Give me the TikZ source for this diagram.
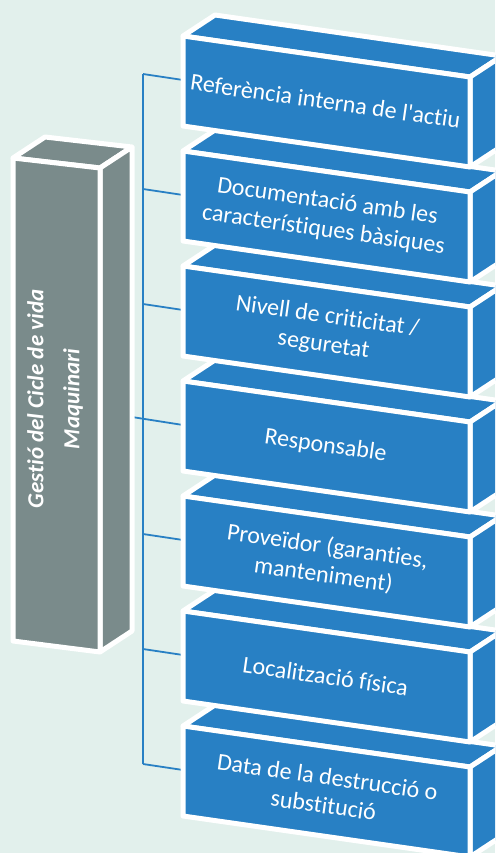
\documentclass[tikz,border=0pt]{standalone}
\usepackage{fontspec}
\setmainfont{Carlito}[Ligatures={TeXOff,CommonOff}]
\definecolor{bg}{RGB}{226,240,236}
\definecolor{boxblue}{RGB}{40,128,196}
\definecolor{boxgray}{RGB}{122,139,139}
\begin{document}
\begin{tikzpicture}[x=1pt,y=-1pt,
  face/.style={fill=boxblue,draw=white,line width=5pt,line join=round},
  gface/.style={fill=boxgray,draw=white,line width=5pt,line join=round},
  conn/.style={draw=boxblue,line width=1.8pt},
  boxtext/.style={text=white,align=center,rotate=-8.1,inner sep=0pt,
    font=\fontsize{24}{28.5}\selectfont},
  gtext/.style={text=white,align=center,rotate=90,inner sep=0pt,
    font=\fontsize{23}{28}\selectfont\bfseries\itshape}]
\useasboundingbox (0,0) rectangle (495,853);
\clip (0,0) rectangle (495,853);
\fill[bg] (0,0) rectangle (495,853);
% connector anchor points
\foreach \i in {0,...,6}{
  \coordinate (j\i) at (143,{74+115*\i});
  \coordinate (w\i) at (183,{80+115*\i});
}
\coordinate (g) at (100,412);
% connectors
\draw[conn] (j0) -- (j6);
\foreach \i in {0,1,2,4,5,6}{
  \draw[conn] (j\i) -- (w\i);
}
\draw[conn] (g) -- (w3);
% blue boxes, bottom to top
\foreach \i/\t in {6/{Data de la destrucció o\\substitució},
                   5/{Localització física},
                   4/{Proveïdor (garanties,\\manteniment)},
                   3/{Responsable},
                   2/{Nivell de criticitat /\\seguretat},
                   1/{Documentació amb les\\característiques bàsiques},
                   0/{Referència interna de l'actiu}}{
  \pgfmathsetmacro\yy{36+115*\i}
  \path[face] (183,\yy) -- (215,\yy-21) -- (502,\yy+20) -- (470,\yy+41) -- cycle;
  \path[face] (470,\yy+41) -- (502,\yy+20) -- (502,\yy+110) -- (470,\yy+131) -- cycle;
  \path[face] (183,\yy) -- (470,\yy+41) -- (470,\yy+131) -- (183,\yy+90) -- cycle;
  \node[boxtext] (t\i) at (325.5,\yy+65) {\t};
}
% gray box
\path[gface] (13,158) -- (45,137) -- (132,147) -- (100,168) -- cycle;
\path[gface] (100,168) -- (132,147) -- (132,631) -- (100,652) -- cycle;
\path[gface] (13,158) -- (100,168) -- (100,652) -- (13,641) -- cycle;
\node[gtext] (gt) at (55,399) {Gestió del Cicle de vida\\[8pt]Maquinari};
\end{tikzpicture}
\end{document}
